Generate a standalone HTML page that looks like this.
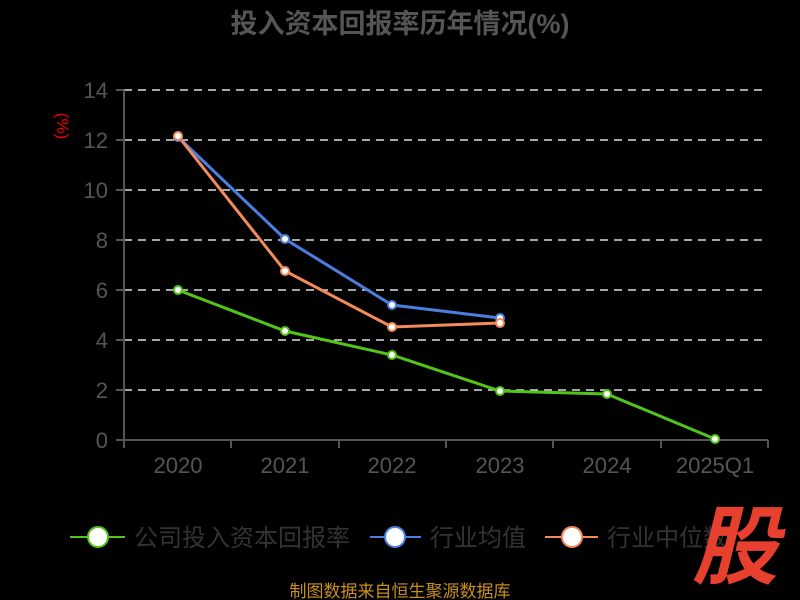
<!DOCTYPE html>
<html><head><meta charset="utf-8"><style>
html,body{margin:0;padding:0;background:#000;width:800px;height:600px;overflow:hidden}
text{font-family:"Liberation Sans","Noto Sans CJK SC",sans-serif}
</style></head><body>
<svg width="800" height="600" xmlns="http://www.w3.org/2000/svg">
<rect width="800" height="600" fill="#000"/>
<text x="400" y="33" text-anchor="middle" font-size="27" font-weight="bold" fill="#555">投入资本回报率历年情况(%)</text>
<g stroke="#ddd" stroke-width="1.5" stroke-dasharray="8,6">
<line x1="124" y1="90" x2="768" y2="90"/><line x1="124" y1="140" x2="768" y2="140"/>
<line x1="124" y1="190" x2="768" y2="190"/><line x1="124" y1="240" x2="768" y2="240"/>
<line x1="124" y1="290" x2="768" y2="290"/><line x1="124" y1="340" x2="768" y2="340"/>
<line x1="124" y1="390" x2="768" y2="390"/>
</g>
<g stroke="#555" stroke-width="2">
<line x1="124" y1="90" x2="124" y2="440"/><line x1="124" y1="440" x2="768" y2="440"/>
<line x1="116" y1="90" x2="124" y2="90"/><line x1="116" y1="140" x2="124" y2="140"/><line x1="116" y1="190" x2="124" y2="190"/><line x1="116" y1="240" x2="124" y2="240"/><line x1="116" y1="290" x2="124" y2="290"/><line x1="116" y1="340" x2="124" y2="340"/><line x1="116" y1="390" x2="124" y2="390"/><line x1="116" y1="440" x2="124" y2="440"/>
<line x1="124" y1="440" x2="124" y2="448"/><line x1="231" y1="440" x2="231" y2="448"/><line x1="339" y1="440" x2="339" y2="448"/><line x1="446" y1="440" x2="446" y2="448"/><line x1="553" y1="440" x2="553" y2="448"/><line x1="661" y1="440" x2="661" y2="448"/><line x1="768" y1="440" x2="768" y2="448"/>
</g>
<g font-size="22" fill="#555" text-anchor="end">
<text x="108" y="98">14</text><text x="108" y="148">12</text><text x="108" y="198">10</text><text x="108" y="248">8</text><text x="108" y="298">6</text><text x="108" y="348">4</text><text x="108" y="398">2</text><text x="108" y="448">0</text>
</g>
<g font-size="22" fill="#555" text-anchor="middle">
<text x="178" y="473">2020</text><text x="285" y="473">2021</text><text x="392" y="473">2022</text><text x="500" y="473">2023</text><text x="607" y="473">2024</text><text x="715" y="473">2025Q1</text>
</g>
<text x="0" y="0" font-size="17" fill="#e00" text-anchor="middle" transform="translate(57,126) rotate(90)">(%)</text>
<polyline points="178,290 285,331 392,355 500,391 607,394 715,439" fill="none" stroke="#52c41a" stroke-width="3"/>
<polyline points="178,137 285,239 392,305 500,318" fill="none" stroke="#4a7fe0" stroke-width="3"/>
<polyline points="178,136 285,271 392,327 500,323" fill="none" stroke="#f58a5a" stroke-width="3"/>
<g fill="#fff" stroke-width="2">
<g stroke="#52c41a"><circle cx="178" cy="290" r="4"/><circle cx="285" cy="331" r="4"/><circle cx="392" cy="355" r="4"/><circle cx="500" cy="391" r="4"/><circle cx="607" cy="394" r="4"/><circle cx="715" cy="439" r="4"/></g>
<g stroke="#4a7fe0"><circle cx="178" cy="137" r="4"/><circle cx="285" cy="239" r="4"/><circle cx="392" cy="305" r="4"/><circle cx="500" cy="318" r="4"/></g>
<g stroke="#f58a5a"><circle cx="178" cy="136" r="4"/><circle cx="285" cy="271" r="4"/><circle cx="392" cy="327" r="4"/><circle cx="500" cy="323" r="4"/></g>
</g>
<g stroke-width="2">
<line x1="70" y1="537" x2="125" y2="537" stroke="#52c41a"/><circle cx="98" cy="537" r="10" fill="#fff" stroke="#52c41a"/>
<line x1="370" y1="537" x2="421" y2="537" stroke="#4a7fe0"/><circle cx="395" cy="537" r="10" fill="#fff" stroke="#4a7fe0"/>
<line x1="545" y1="537" x2="598" y2="537" stroke="#f58a5a"/><circle cx="572" cy="537" r="10" fill="#fff" stroke="#f58a5a"/>
</g>
<g font-size="24" fill="#333">
<text x="134" y="546">公司投入资本回报率</text><text x="430" y="546">行业均值</text><text x="607" y="546">行业中位数</text>
</g>
<text x="735" y="577" font-size="86" font-weight="bold" font-style="italic" fill="#e8402e" text-anchor="middle">股</text>
<text x="400" y="597" font-size="17" fill="#c8901e" text-anchor="middle">制图数据来自恒生聚源数据库</text>
</svg>
</body></html>
